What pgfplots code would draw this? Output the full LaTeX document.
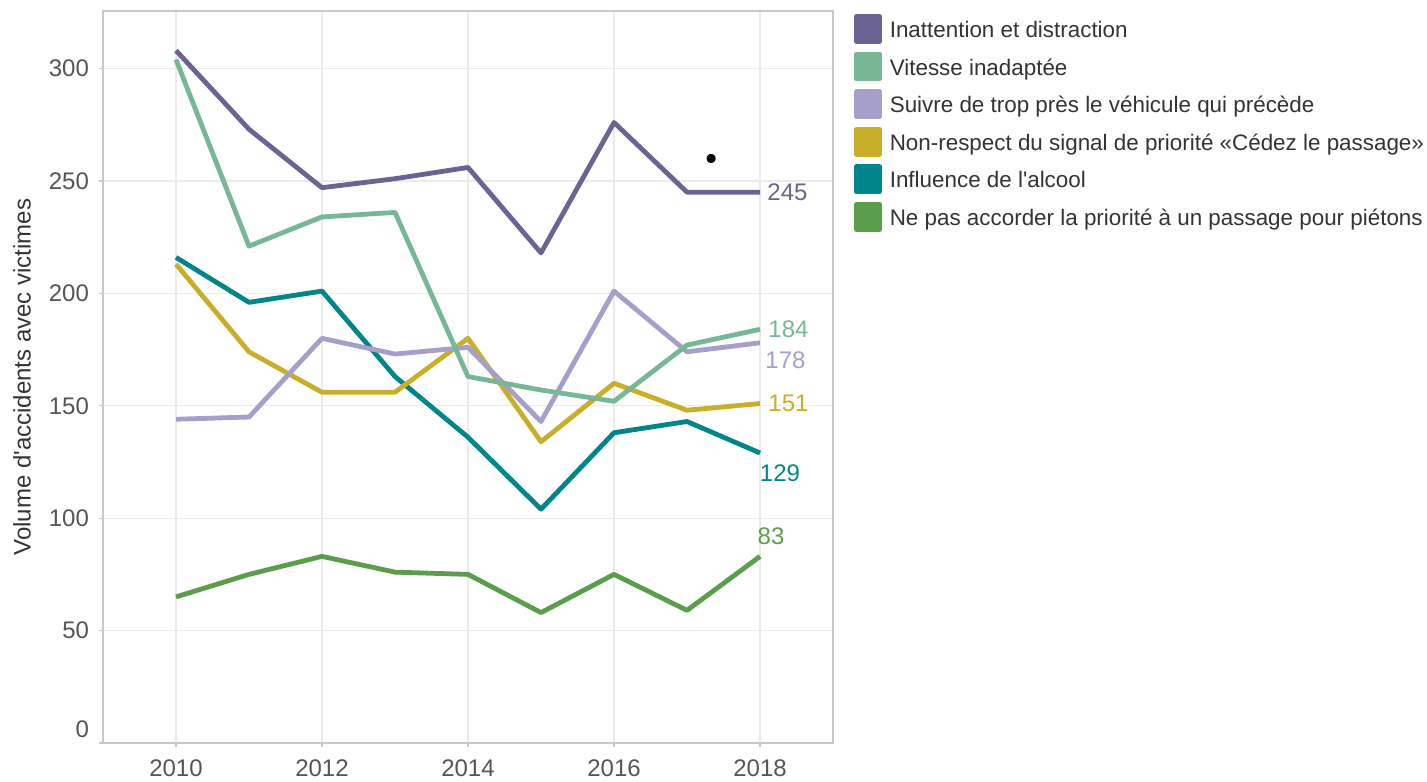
\documentclass[border=0pt]{standalone}
\usepackage{fontspec}
\setmainfont{Liberation Sans}[Ligatures=TeXOff]
\usepackage{pgfplots}
\pgfplotsset{compat=1.18}
\definecolor{cInat}{HTML}{6B6394}
\definecolor{cVit}{HTML}{76B896}
\definecolor{cSuiv}{HTML}{A69FCB}
\definecolor{cNon}{HTML}{C9AE2A}
\definecolor{cAlc}{HTML}{00868A}
\definecolor{cPiet}{HTML}{5A9E4B}
\definecolor{gridc}{HTML}{EBEBEB}
\definecolor{framec}{HTML}{C8C8C8}
\definecolor{tickc}{HTML}{555555}
\definecolor{textc}{HTML}{333333}
\begin{document}
\begin{tikzpicture}
\begin{axis}[
  scale only axis, width=365pt, height=366pt,
  xmin=2009, xmax=2019, ymin=0, ymax=325.6,
  xtick={2010,2012,2014,2016,2018}, ytick={0,50,100,150,200,250,300},
  yticklabels={{\raisebox{14pt}{0}},50,100,150,200,250,300},
  grid=major, major grid style={color=gridc, line width=0.6pt},
  axis line style={color=framec, line width=0.8pt},
  tick style={color=framec, line width=0.6pt}, tick align=outside, major tick length=2pt,
  tick pos=left,
  ticklabel style={font=\fontsize{12}{14}\selectfont, text=tickc},
  /pgf/number format/assume math mode=true,
  xticklabel style={/pgf/number format/1000 sep={}, yshift=-2.8pt},
  yticklabel style={xshift=-1.5pt},
  ylabel={Volume d'accidents avec victimes},
  every axis y label/.style={at={(rel axis cs:0,0.5)}, xshift=-40.5pt, rotate=90, anchor=center, font=\fontsize{12}{14}\selectfont, text=textc},
  clip=false,
  reverse legend,
  legend cell align=left,
  legend style={at={(1,1)}, anchor=north west, xshift=10.5pt, yshift=-1.5pt, draw=none, fill=none, inner sep=0pt, outer sep=0pt, row sep=3.9pt, font=\fontsize{11.2}{13}\selectfont, text=textc, nodes={inner xsep=4pt, inner ysep=0pt}},
  legend image code/.code={\fill[#1] (0pt,-5.25pt) rectangle (11.5pt,7.25pt);},
  every axis plot/.append style={line width=2.4pt, line join=round},
]
\addplot[only marks, mark=*, mark size=1.1pt, black, forget plot] coordinates {(2017.33,260)};
\addplot[color=cPiet] coordinates {(2010,65) (2011,75) (2012,83) (2013,76) (2014,75) (2015,58) (2016,75) (2017,59) (2018,83)};
\addlegendentry{Ne pas accorder la priorité à un passage pour piétons}
\addplot[color=cAlc] coordinates {(2010,216) (2011,196) (2012,201) (2013,163) (2014,136) (2015,104) (2016,138) (2017,143) (2018,129)};
\addlegendentry{Influence de l'alcool}
\addplot[color=cNon] coordinates {(2010,213) (2011,174) (2012,156) (2013,156) (2014,180) (2015,134) (2016,160) (2017,148) (2018,151)};
\addlegendentry{Non-respect du signal de priorité «Cédez le passage»}
\addplot[color=cSuiv] coordinates {(2010,144) (2011,145) (2012,180) (2013,173) (2014,176) (2015,143) (2016,201) (2017,174) (2018,178)};
\addlegendentry{Suivre de trop près le véhicule qui précède}
\addplot[color=cVit] coordinates {(2010,304) (2011,221) (2012,234) (2013,236) (2014,163) (2015,157) (2016,152) (2017,177) (2018,184)};
\addlegendentry{Vitesse inadaptée}
\addplot[color=cInat] coordinates {(2010,308) (2011,273) (2012,247) (2013,251) (2014,256) (2015,218) (2016,276) (2017,245) (2018,245)};
\addlegendentry{Inattention et distraction}
\node[anchor=west, inner sep=0pt, xshift=3.5pt, text=cInat, font=\fontsize{12}{14}\selectfont] at (axis cs:2018,245) {245};
\node[anchor=west, inner sep=0pt, xshift=4pt, text=cVit, font=\fontsize{12}{14}\selectfont] at (axis cs:2018,184) {184};
\node[anchor=west, inner sep=0pt, xshift=2.5pt, yshift=-8.5pt, text=cSuiv, font=\fontsize{12}{14}\selectfont] at (axis cs:2018,178) {178};
\node[anchor=west, inner sep=0pt, xshift=4pt, text=cNon, font=\fontsize{12}{14}\selectfont] at (axis cs:2018,151) {151};
\node[anchor=center, inner sep=0pt, xshift=10pt, yshift=-10pt, text=cAlc, font=\fontsize{12}{14}\selectfont] at (axis cs:2018,129) {129};
\node[anchor=center, inner sep=0pt, xshift=5.5pt, yshift=10pt, text=cPiet, font=\fontsize{12}{14}\selectfont] at (axis cs:2018,83) {83};
\coordinate (SW) at (rel axis cs:0,0);
\coordinate (NE) at (rel axis cs:1,1);
\end{axis}
\pgfresetboundingbox
\path ([shift={(-51.5pt,-19pt)}]SW) rectangle ([shift={(297pt,5.5pt)}]NE);
\end{tikzpicture}
\end{document}
